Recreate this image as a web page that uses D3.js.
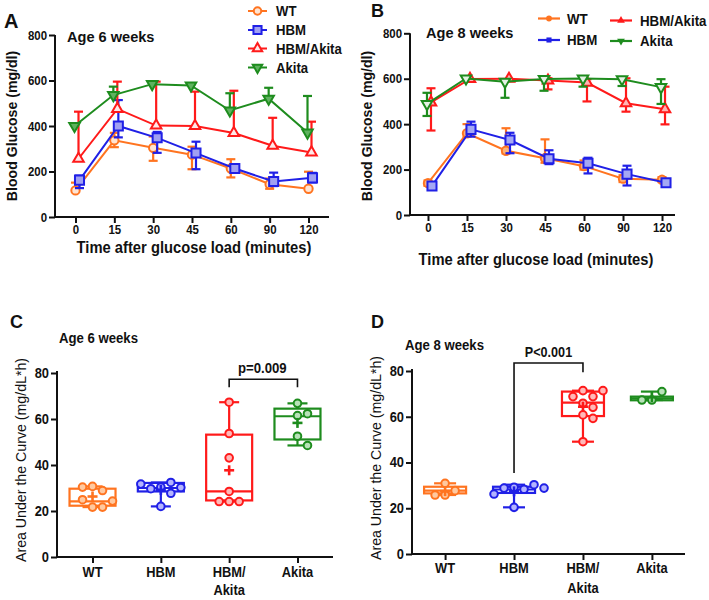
<!DOCTYPE html>
<html><head><meta charset="utf-8">
<script src="https://cdn.jsdelivr.net/npm/d3@7"></script>
<style>body{margin:0;background:#fff}</style>
</head><body>
<script>
// ---------- DATA ----------
const times = ["0","15","30","45","60","90","120"];
const series = ["WT","HBM","HBM/Akita","Akita"];
const yTicksLine = [0,200,400,600,800];
const yTicksAuc = [0,20,40,60,80];

// Panel A (6 weeks) means and error bar lengths (up / down)
const wt6 = [117,337,304,274,213,144,124];
const wt6Up = [34,33,50,35,41,25,75];
const wt6Dn = [0,30,57,64,39,20,0];
const hbm6 = [162,400,348,281,213,156,172];
const hbm6Up = [20,114,26,50,15,39,22];
const hbm6Dn = [35,50,66,71,15,20,20];
const hbmAk6 = [256,475,402,400,369,313,284];
const hbmAk6Up = [207,120,193,151,186,123,135];
const hbmAk6Dn = [0,0,0,0,0,0,0];
const akita6 = [400,536,584,578,468,520,371];
const akita6Up = [0,37,10,5,76,48,161];
const akita6Dn = [0,0,0,0,0,0,0];

// Panel B (8 weeks)
const wt8 = [140,360,283,250,215,160,155];
const wt8Up = [12,40,99,83,25,15,12];
const wt8Dn = [12,15,12,20,15,15,10];
const hbm8 = [128,377,330,248,228,180,142];
const hbm8Up = [10,34,32,37,24,37,10];
const hbm8Dn = [10,32,58,24,45,50,10];
const hbmAk8 = [496,599,600,592,583,492,466];
const hbmAk8Up = [62,0,0,10,15,110,99];
const hbmAk8Dn = [124,5,0,39,83,37,67];
const akita8 = [489,601,587,599,601,598,563];
const akita8Up = [49,0,0,10,0,0,35];
const akita8Dn = [53,0,71,52,36,30,74];

// Panel C (AUC, 6 weeks)
const auc6WT = [30.7,21.7,28.9,24.9,30.4,21.7,24.3];
const auc6HBM = [30.4,32.4,22.0,29.7,30.2,31.7,27.7];
const auc6HA = [24.1,67.3,53.7,43.1,28.5,24.1,24.1];
const auc6Ak = [61.5,66.8,52.5,48.5,62.3];
const auc6Q1 = [22.3,28.5,24.6,51.1];
const auc6Med = [24.2,30.0,28.5,61.2];
const auc6Q3 = [29.7,32.2,53.2,64.5];
const auc6Mean = [26.3,29.2,37.7,58.3];

// Panel D (AUC, 8 weeks)
const auc8WT = [25.8,30.9,27.7,25.8];
const auc8HBM = [29.2,28.3,28.8,20.4,30.3,26.2,28.8];
const auc8HA = [71.4,65.9,60.8,68.8,49.1,64.1,59.3,68.8,71.4];
const auc8Ak = [67.3,71.0,67.3];
const auc8Q1 = [26.5,26.7,60.3,67.2];
const auc8Med = [27.7,28.2,66.2,68.0];
const auc8Q3 = [29.4,29.4,71.0,68.8];
const auc8Mean = [27.5,27.4,64.4,68.5];

// significance brackets [groupFrom, groupTo, top, leftEnd, rightEnd, text]
const sigC = ["HBM/Akita","Akita",77.3,73.8,73.8,"p=0.009"];
const sigD = ["HBM","HBM/Akita",83.5,35.4,79.5,"P<0.001"];

// ---------- STYLE ----------
const FF = '"Liberation Sans", Arial, Helvetica, sans-serif';
const colors = ["#ff7420","#2020e6","#ff1a1a","#1e8c1e"];
const fillsA = ["#ffe4d2","#a0a0f2","#ffe8e8","#5fb25f"];
const fillsB = ["#fbb27a","#a4a8f4","#ffb4b4","#e4f2e4"];
const ptFills = ["#ffc9a0","#b4b4ff","#ffb8b8","#b8e2b8"];
const symbols = [d3.symbolCircle, d3.symbolSquare, d3.symbolTriangle, d3.symbolTriangle];
const symSizes = [55, 82, 48, 48];
const rots = [0,0,0,180];
const nudges = [0,4,3,-1];

const svg = d3.select('body').append('svg').attr('width',709).attr('height',600)
  .style('font-family', FF);

function squeeze(sel,k){
  sel.each(function(){
    const w=this.getComputedTextLength();
    if(w>0){ d3.select(this).attr('textLength',w*k).attr('lengthAdjust','spacingAndGlyphs'); }
  });
}
function label(x,y,str,size,weight,k,anchor,rot){
  const t = svg.append('text').attr('x',x).attr('y',y).text(str)
    .attr('font-size',size).attr('font-weight',weight)
    .attr('text-anchor',anchor||'start').attr('fill','#111');
  if(rot) t.attr('transform',`rotate(-90,${x},${y})`);
  squeeze(t,k); return t;
}
function hline(x1,x2,y,w,c){ svg.append('line').attr('x1',x1).attr('x2',x2).attr('y1',y).attr('y2',y).attr('stroke',c||'#111').attr('stroke-width',w||2); }
function vline(x,y1,y2,w,c){ svg.append('line').attr('x1',x).attr('x2',x).attr('y1',y1).attr('y2',y2).attr('stroke',c||'#111').attr('stroke-width',w||2); }

function axes(xs, ys, yticks, xAxisSpan, yAxisX, yTop, fs, k, showXLabels){
  const yBase = ys.range()[0];
  const gx = svg.append('g').attr('transform',`translate(0,${yBase})`)
    .call(d3.axisBottom(xs).tickSize(6).tickPadding(2).tickSizeOuter(0)
      .tickFormat(showXLabels ? (d=>d) : (()=>'')));
  const gy = svg.append('g').attr('transform',`translate(${yAxisX},0)`)
    .call(d3.axisLeft(ys).tickValues(yticks).tickSize(6).tickPadding(2).tickSizeOuter(0));
  [gx,gy].forEach(g=>{
    g.select('.domain').remove();
    g.selectAll('.tick line').attr('stroke','#111').attr('stroke-width',2);
    g.attr('font-family',FF).attr('font-size',fs).attr('font-weight','bold');
    g.selectAll('text').attr('fill','#111');
    squeeze(g.selectAll('text'),k);
  });
  hline(xAxisSpan[0]-1,xAxisSpan[1],yBase,2);
  vline(yAxisX,yTop,yBase+1,2);
}

function linePanel(xs, ys, means, ups, dns, fills){
  means.forEach((m,si)=>{
    const c = colors[si];
    const px = i => xs(times[i])+nudges[si];
    const g = svg.append('g');
    m.forEach((v,i)=>{
      [[ups[si][i],1],[dns[si][i],-1]].forEach(([e,dir])=>{
        if(e>0){
          const y1 = ys(v+dir*e);
          g.append('line').attr('x1',px(i)).attr('x2',px(i)).attr('y1',ys(v)).attr('y2',y1).attr('stroke',c).attr('stroke-width',2.2);
          g.append('line').attr('x1',px(i)-4.5).attr('x2',px(i)+4.5).attr('y1',y1).attr('y2',y1).attr('stroke',c).attr('stroke-width',2.2);
        }
      });
    });
    g.append('path').datum(m).attr('fill','none').attr('stroke',c).attr('stroke-width',2)
      .attr('d', d3.line().x((d,i)=>px(i)).y(d=>ys(d)));
    g.selectAll('path.mk').data(m).join('path').attr('class','mk')
      .attr('transform',(d,i)=>`translate(${px(i)},${ys(d)}) rotate(${rots[si]})`)
      .attr('d', d3.symbol(symbols[si], symSizes[si]))
      .attr('fill', fills[si]).attr('stroke',c).attr('stroke-width',2);
  });
}

function swarm(vals, ys, d, step){
  const placed=[];
  return vals.map(v=>{
    const py=ys(v);
    for(let k=0;k<30;k++){
      const off = k===0?0:(k%2?1:-1)*Math.ceil(k/2)*step;
      if(placed.every(p=>Math.hypot(p[0]-off,p[1]-py)>=d)){ placed.push([off,py]); return [off,py]; }
    }
    return [0,py];
  });
}

function boxPanel(xs, ys, pts, q1, med, q3, mean, boxW, capW){
  series.forEach((name,gi)=>{
    const c = colors[gi], cx = xs(name), p = pts[gi];
    const mn = d3.min(p), mx = d3.max(p);
    const g = svg.append('g');
    const ln = (x1,y1,x2,y2,w)=>g.append('line').attr('x1',x1).attr('y1',y1).attr('x2',x2).attr('y2',y2).attr('stroke',c).attr('stroke-width',w||2.2);
    ln(cx,ys(q3[gi]),cx,ys(mx)); ln(cx-capW/2,ys(mx),cx+capW/2,ys(mx));
    ln(cx,ys(q1[gi]),cx,ys(mn)); ln(cx-capW/2,ys(mn),cx+capW/2,ys(mn));
    g.append('rect').attr('x',cx-boxW/2).attr('y',ys(q3[gi])).attr('width',boxW)
      .attr('height',Math.max(0.5,ys(q1[gi])-ys(q3[gi]))).attr('fill','none').attr('stroke',c).attr('stroke-width',2.2);
    ln(cx-boxW/2,ys(med[gi]),cx+boxW/2,ys(med[gi]));
    g.selectAll('circle').data(swarm(p,ys,9.5,10)).join('circle')
      .attr('cx',d=>cx+d[0]).attr('cy',d=>d[1]).attr('r',3.8)
      .attr('fill',ptFills[gi]).attr('stroke',c).attr('stroke-width',2);
    const my = ys(mean[gi]);
    ln(cx-5,my,cx+5,my,2.6); ln(cx,my-5,cx,my+5,2.6);
  });
}

function bracket(xs, ys, s){
  const xa = xs(s[0]), xb = xs(s[1]);
  svg.append('path').attr('fill','none').attr('stroke','#111').attr('stroke-width',1.6)
    .attr('d',`M${xa},${ys(s[3])}V${ys(s[2])}H${xb}V${ys(s[4])}`);
  return [(xa+xb)/2, ys(s[2])];
}

// ---------- PANEL A ----------
const xA = d3.scalePoint().domain(times).range([55,329]).padding(0.528);
const yA = d3.scaleLinear().domain([0,800]).range([217,35]);
axes(xA,yA,yTicksLine,[55,329],55,35,13,0.88,true);
linePanel(xA,yA,[wt6,hbm6,hbmAk6,akita6],[wt6Up,hbm6Up,hbmAk6Up,akita6Up],[wt6Dn,hbm6Dn,hbmAk6Dn,akita6Dn],fillsA);
label(4,28,"A",20,"bold",1);
label(67,41.7,"Age 6 weeks",15.5,"bold",0.94);
label(17,126,"Blood Glucose (mg/dl)",15,"bold",0.94,"middle",true);
label(194,252.5,"Time after glucose load (minutes)",17,"bold",0.867,"middle");
series.forEach((s,i)=>{
  const yy = [11,30,48.5,67.5][i];
  hline(248,267,yy,2,colors[i]);
  svg.append('path').attr('transform',`translate(257.5,${yy}) rotate(${rots[i]})`)
    .attr('d',d3.symbol(symbols[i],symSizes[i]*0.8)).attr('fill',fillsA[i]).attr('stroke',colors[i]).attr('stroke-width',2);
  label(276,yy+5,s,14,"bold",0.94);
});

// ---------- PANEL B ----------
const xB = d3.scalePoint().domain(times).range([415,675]).padding(0.333);
const yB = d3.scaleLinear().domain([0,800]).range([215,33.3]);
axes(xB,yB,yTicksLine,[410,675],410,33.3,13,0.88,true);
linePanel(xB,yB,[wt8,hbm8,hbmAk8,akita8],[wt8Up,hbm8Up,hbmAk8Up,akita8Up],[wt8Dn,hbm8Dn,hbmAk8Dn,akita8Dn],fillsB);
label(371,17,"B",18,"bold",1);
label(426,38.3,"Age 8 weeks",15.5,"bold",0.94);
label(372,126,"Blood Glucose (mg/dl)",15,"bold",0.94,"middle",true);
label(536,265,"Time after glucose load (minutes)",17,"bold",0.867,"middle");
series.forEach((s,i)=>{
  const col = i<2 ? 0 : 1;
  const yy = [18.5,40,20.5,41][i];
  const x0 = col ? 610 : 538;
  hline(x0,x0+22,yy,2.2,colors[i]);
  svg.append('path').attr('transform',`translate(${x0+11},${yy}) rotate(${rots[i]})`)
    .attr('d',d3.symbol(symbols[i],26)).attr('fill',colors[i]);
  label(col?640:567,yy+5,s,14,"bold",0.95);
});

// ---------- PANEL C ----------
const xC = d3.scalePoint().domain(series).range([57,333]).padding(0.52);
const yC = d3.scaleLinear().domain([0,80]).range([557,373]);
axes(xC,yC,yTicksAuc,[57,333],57,371,14,0.92,false);
boxPanel(xC,yC,[auc6WT,auc6HBM,auc6HA,auc6Ak],auc6Q1,auc6Med,auc6Q3,auc6Mean,46,20);
label(10,328,"C",18,"bold",1);
label(59,343.3,"Age 6 weeks",14,"bold",0.94);
label(26,460,"Area Under the Curve (mg/dL*h)",15,"normal",0.945,"middle",true);
{ const [tx,ty] = bracket(xC,yC,sigC); label(tx-1,ty-6,sigC[5],14,"bold",0.94,"middle"); }
series.forEach(s=>{
  const parts = s.includes('/') ? [s.split('/')[0]+'/', s.split('/')[1]] : [s];
  parts.forEach((p,j)=>label(xC(s),576.7+j*18.5,p,14,"bold",0.92,"middle"));
});

// ---------- PANEL D ----------
const xD = d3.scalePoint().domain(series).range([412,685]).padding(0.48);
const yD = d3.scaleLinear().domain([0,80]).range([554,371]);
axes(xD,yD,yTicksAuc,[412,685],412,369,14,0.92,false);
boxPanel(xD,yD,[auc8WT,auc8HBM,auc8HA,auc8Ak],auc8Q1,auc8Med,auc8Q3,auc8Mean,42,22);
label(371,328,"D",18,"bold",1);
label(405,350,"Age 8 weeks",14,"bold",0.94);
label(381,458,"Area Under the Curve (mg/dL*h)",15,"normal",0.945,"middle",true);
{ const [tx,ty] = bracket(xD,yD,sigD); label(tx,ty-6,sigD[5],14,"bold",0.9,"middle"); }
series.forEach(s=>{
  const parts = s.includes('/') ? [s.split('/')[0]+'/', s.split('/')[1]] : [s];
  parts.forEach((p,j)=>label(xD(s),573+j*19.5,p,14,"bold",0.92,"middle"));
});
</script>
</body></html>
